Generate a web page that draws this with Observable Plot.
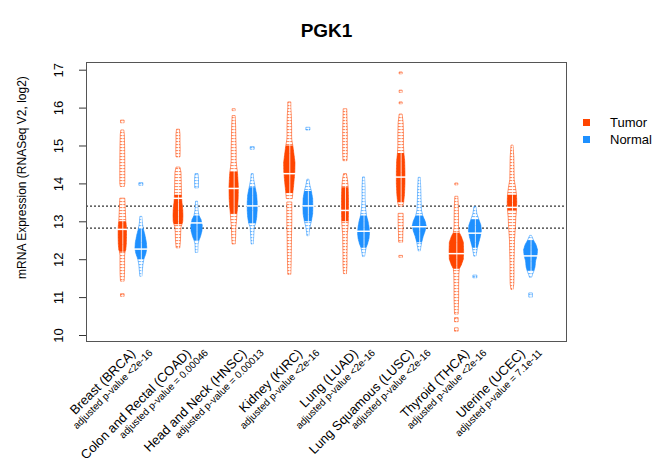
<!DOCTYPE html>
<html><head><meta charset="utf-8">
<script src="https://cdn.jsdelivr.net/npm/d3@7"></script>
<script src="https://cdn.jsdelivr.net/npm/@observablehq/plot@0.6"></script>
<style>
body{margin:0;background:#fff;font-family:"Liberation Sans",Arial,sans-serif}
#wrap{position:relative;width:665px;height:458px;overflow:hidden}
.sw{position:absolute;width:7px;height:7px}
.lt{position:absolute;font-size:13px;line-height:15px;color:#000;white-space:nowrap}
</style></head><body><div id="wrap"></div><script>
const categories = ["Breast (BRCA)", "Colon and Rectal (COAD)", "Head and Neck (HNSC)", "Kidney (KIRC)", "Lung (LUAD)", "Lung Squamous (LUSC)", "Thyroid (THCA)", "Uterine (UCEC)"];
const pValueLabels = ["adjusted p-value <2e-16", "adjusted p-value = 0.00046", "adjusted p-value = 0.00013", "adjusted p-value <2e-16", "adjusted p-value <2e-16", "adjusted p-value <2e-16", "adjusted p-value <2e-16", "adjusted p-value = 7.1e-11"];
const groups = ["Tumor", "Normal"];
const groupColors = ["#FF4500", "#1E90FF"];
const overallLines = [13.415, 12.834];
const yTicks = [10, 11, 12, 13, 14, 15, 16, 17];

// bean density profiles: [expression, relative density]; null = gap
const brcaTumor = [[15.66,1.8],[15.60,1.8],null,[15.40,1.5],[15.30,2],[15.0,2.3],[14.5,2.5],[14.0,2.5],[13.92,2],null,[13.6,2.5],[13.3,3],[13.0,3.5],[12.95,3.8],[12.8,4.2],[12.6,4.2],[12.4,4],[12.25,3.5],[12.2,2.8],[12.1,2.3],[11.8,2.3],[11.6,2.2],[11.42,1.8],null,[11.08,1.8],[11.02,1.8]];
const brcaNormal = [[14.01,2],[13.95,2],null,[13.12,1],[12.95,1.5],[12.8,2.5],[12.65,4],[12.45,5.5],[12.28,6],[12.15,5],[12.0,3],[11.85,2],[11.7,1.5],[11.55,1]];
const coadTumor = [[15.42,1.5],[15.30,2],[15.1,2],[14.9,2.2],[14.7,2],null,[14.42,2],[14.3,3],[14.0,3.3],[13.7,3.5],[13.5,4],[13.3,4.8],[13.15,5],[13.0,4.8],[12.92,4],[12.85,3],[12.7,2.7],[12.5,2.5],[12.3,1.8]];
const coadNormal = [[14.25,1.5],[14.1,2],[13.88,1.8],null,[13.52,1],[13.3,1.5],[13.15,2.5],[13.05,4.5],[12.9,5.7],[12.75,5.5],[12.6,4],[12.5,2.5],[12.4,1.5],[12.18,1.2]];
const hnscTumor = [[15.96,1.5],[15.92,1.5],null,[15.78,1.5],[15.5,2],[15.2,2.2],[14.9,2.5],[14.6,2.5],[14.45,3],[14.3,3.8],[14.1,4.3],[13.9,4.7],[13.6,4.5],[13.4,4],[13.2,3.3],[13.0,2.8],[12.85,2.2],[12.6,2],[12.4,1.5]];
const hnscNormal = [[14.96,2],[14.9,2],null,[14.25,1],[14.1,1.5],[13.9,3],[13.7,4.5],[13.5,5],[13.3,5],[13.1,4.5],[12.95,3.5],[12.85,2],[12.6,1.5],[12.4,1]];
const kircTumor = [[16.14,1.5],[16.0,1.5],[15.8,2],[15.5,2.3],[15.25,2.3],[15.15,2.5],[15.0,3.5],[14.8,4.5],[14.55,5.7],[14.3,5.5],[14.0,4.5],[13.75,3.5],[13.6,3],null,[13.5,2.5],[13.0,2.5],[12.6,2.2],[12.2,2],[11.9,1.8],[11.6,1.5]];
const kircNormal = [[15.47,2],[15.41,2],null,[14.1,1],[13.95,2],[13.8,3.5],[13.6,4.8],[13.4,5],[13.2,4.8],[13.0,3.5],[12.85,2],[12.7,1.2],[12.62,1]];
const luadTumor = [[15.96,1.8],[15.7,2],[15.4,2.3],[15.1,2.3],[14.8,2.3],[14.6,2],null,[14.25,1.5],[14.1,2.5],[13.9,3.2],[13.6,3.5],[13.3,3.5],[13.0,3.3],[12.8,2.8],[12.65,2.3],[12.4,2.2],[12.1,2],[11.85,2],[11.62,1.5]];
const luadNormal = [[14.16,1],[13.9,1.5],[13.6,1.5],[13.35,2],[13.15,3],[13.0,4.5],[12.85,5.5],[12.7,6],[12.55,5.5],[12.4,4],[12.3,2.5],[12.15,1.5],[12.07,1]];
const luscTumor = [[16.93,1.5],[16.89,1.5],null,[16.45,1.5],[16.40,1.5],null,[16.14,1.5],[16.10,1.5],null,[15.82,1.5],[15.6,2.5],[15.3,2.8],[15.0,2.8],[14.8,3.2],[14.6,4],[14.3,4.3],[14.0,4.3],[13.7,3.8],[13.5,3],[13.4,2],null,[13.2,2.5],[12.95,2.5],[12.7,2.2],[12.45,2],null,[12.09,1.8],[12.05,1.8]];
const luscNormal = [[14.15,1],[13.9,1.5],[13.6,1.8],[13.3,2.2],[13.15,3.5],[13.0,6],[12.88,7],[12.75,6],[12.6,4],[12.45,2.5],[12.3,1.5],[12.22,1]];
const thcaTumor = [[14.0,1.5],[13.96,1.5],null,[13.65,1.5],[13.4,2],[13.1,2.2],[12.85,2.2],[12.7,3],[12.6,5],[12.45,7],[12.2,7.3],[12.0,7],[11.85,5],[11.75,3],[11.6,2.5],[11.3,2.3],[11.0,2.3],[10.7,2],[10.55,1.8],null,[10.45,1.8],[10.35,1.8],null,[10.18,1.8],[10.1,1.8]];
const thcaNormal = [[13.38,1],[13.2,2],[13.05,4],[12.9,6],[12.75,6.5],[12.6,5.5],[12.45,4],[12.3,2.5],[12.15,1.5],[12.08,1],null,[11.57,2],[11.51,2]];
const ucecTumor = [[15.0,1],[14.7,1.8],[14.4,2],[14.1,2.2],[13.9,3.5],[13.7,4.5],[13.5,4.8],[13.3,4.5],[13.1,3.8],[12.9,3.5],[12.7,3],[12.5,2.5],[12.2,2.3],[11.9,2],[11.6,2],[11.35,1.8],[11.2,1]];
const ucecNormal = [[12.62,1],[12.5,3],[12.38,5.5],[12.25,7],[12.1,6.5],[11.95,5],[11.8,4.5],[11.7,3.5],[11.6,2],[11.52,1],null,[11.1,1.8],[11.0,1.8]];

// dense (solid) part of each bean: [low, high]
const beanCores = [[12.2,13.0],[12.0,12.8],[12.92,13.7],[12.5,13.15],[13.2,14.3],[12.95,13.9],[13.75,15.0],[13.0,13.8],[13.0,13.9],[12.3,13.15],[13.5,14.8],[12.45,13.15],[11.75,12.7],[12.3,13.05],[13.3,13.7],[11.7,12.5]];
// bean averages
const beanMeans = [12.8,12.28,13.62,12.97,13.88,13.42,14.27,13.42,13.3,12.75,14.18,12.87,12.16,12.7,13.38,12.1];

const beanProfiles = [brcaTumor, brcaNormal, coadTumor, coadNormal, hnscTumor, hnscNormal, kircTumor, kircNormal, luadTumor, luadNormal, luscTumor, luscNormal, thcaTumor, thcaNormal, ucecTumor, ucecNormal];

const widthScale = 1 / 18.557; // density unit -> x position units
const rows = [];
beanProfiles.forEach((prof, i) => {
  const k = Math.floor(i / 2), g = i % 2;
  const pos = 3 * k + 1 + g;
  prof.forEach(p => {
    if (p === null) rows.push({bean: i, group: groups[g], pos, v: NaN, d: NaN, core: false});
    else rows.push({bean: i, group: groups[g], pos, v: p[0], d: p[1],
      core: p[0] >= beanCores[i][0] - 1e-9 && p[0] <= beanCores[i][1] + 1e-9});
  });
});
const means = beanMeans.map((m, i) => ({v: m, pos: 3 * Math.floor(i / 2) + 1 + (i % 2)}));
const x1 = r => r.pos - r.d * widthScale;
const x2 = r => r.pos + r.d * widthScale;

const tailMarks = groups.map((g, gi) =>
  Plot.areaX(rows.filter(r => r.group === g), {y: "v", x1, x2, z: "bean", fill: `url(#stripe${gi})`, stroke: groupColors[gi], strokeWidth: 0.8, strokeOpacity: 0.7})
);

const plot = Plot.plot({
  width: 665, height: 458,
  marginLeft: 86, marginRight: 99, marginTop: 62, marginBottom: 117,
  x: {domain: [-0.956, 24.91], axis: null},
  y: {domain: [9.842, 17.203], axis: null},
  color: {domain: groups, range: groupColors},
  style: {fontFamily: "'Liberation Sans', Arial, sans-serif", background: "white", color: "black"},
  marks: [
    Plot.ruleY(overallLines, {stroke: "#333", strokeDasharray: "2,2", strokeWidth: 1.2}),
    ...tailMarks,
    Plot.areaX(rows.filter(r => r.core), {y: "v", x1, x2, z: "bean", fill: "group"}),
    Plot.line(rows, {x: "pos", y: "v", z: "bean", stroke: "white", strokeWidth: 0.8}),
    Plot.ruleY(means, {y: "v", x1: d => d.pos - 0.45, x2: d => d.pos + 0.45, stroke: "white", strokeWidth: 1.5}),
    Plot.frame({stroke: "#555"}),
    Plot.axisY(yTicks, {tickSize: 7, tickFormat: () => "", label: null, stroke: "#333"}),
    Plot.text(yTicks, {y: d => d, text: d => String(d), frameAnchor: "left", textAnchor: "middle", dx: -28, rotate: -90, fontSize: 13}),
    Plot.text(["mRNA Expression (RNASeq V2, log2)"], {frameAnchor: "left", textAnchor: "middle", dx: -64, dy: -24.5, rotate: -90, fontSize: 12}),
    Plot.text(["PGK1"], {frameAnchor: "top", dy: -39, fontSize: 19, fontWeight: "bold"}),
    Plot.text(categories, {x: (d, i) => 3 * i + 1.5, frameAnchor: "bottom", text: d => d, rotate: -45, textAnchor: "end", dx: 4, dy: 13, fontSize: 13}),
    Plot.text(pValueLabels, {x: (d, i) => 3 * i + 1.5, frameAnchor: "bottom", text: d => d, rotate: -45, textAnchor: "end", dx: 21, dy: 12, fontSize: 10})
  ]
});

// striped fills for sparse bean tails
const ns = "http://www.w3.org/2000/svg";
const defs = document.createElementNS(ns, "defs");
groupColors.forEach((c, i) => {
  const pat = document.createElementNS(ns, "pattern");
  pat.setAttribute("id", "stripe" + i);
  pat.setAttribute("patternUnits", "userSpaceOnUse");
  pat.setAttribute("width", "6");
  pat.setAttribute("height", "3");
  const bg = document.createElementNS(ns, "rect");
  bg.setAttribute("width", "6"); bg.setAttribute("height", "3"); bg.setAttribute("fill", "white");
  const r = document.createElementNS(ns, "rect");
  r.setAttribute("width", "6"); r.setAttribute("height", "1.1"); r.setAttribute("fill", c); r.setAttribute("fill-opacity", "0.6");
  pat.appendChild(bg); pat.appendChild(r);
  defs.appendChild(pat);
});
plot.insertBefore(defs, plot.firstChild);

const wrap = document.getElementById("wrap");
wrap.appendChild(plot);
groups.forEach((g, i) => {
  const sw = document.createElement("div");
  sw.className = "sw"; sw.style.left = "583px"; sw.style.top = (119 + i * 17.3) + "px"; sw.style.background = groupColors[i];
  wrap.appendChild(sw);
  const t = document.createElement("div");
  t.className = "lt"; t.style.left = "610px"; t.style.top = (114.5 + i * 17.3) + "px"; t.textContent = g;
  wrap.appendChild(t);
});
</script></body></html>
